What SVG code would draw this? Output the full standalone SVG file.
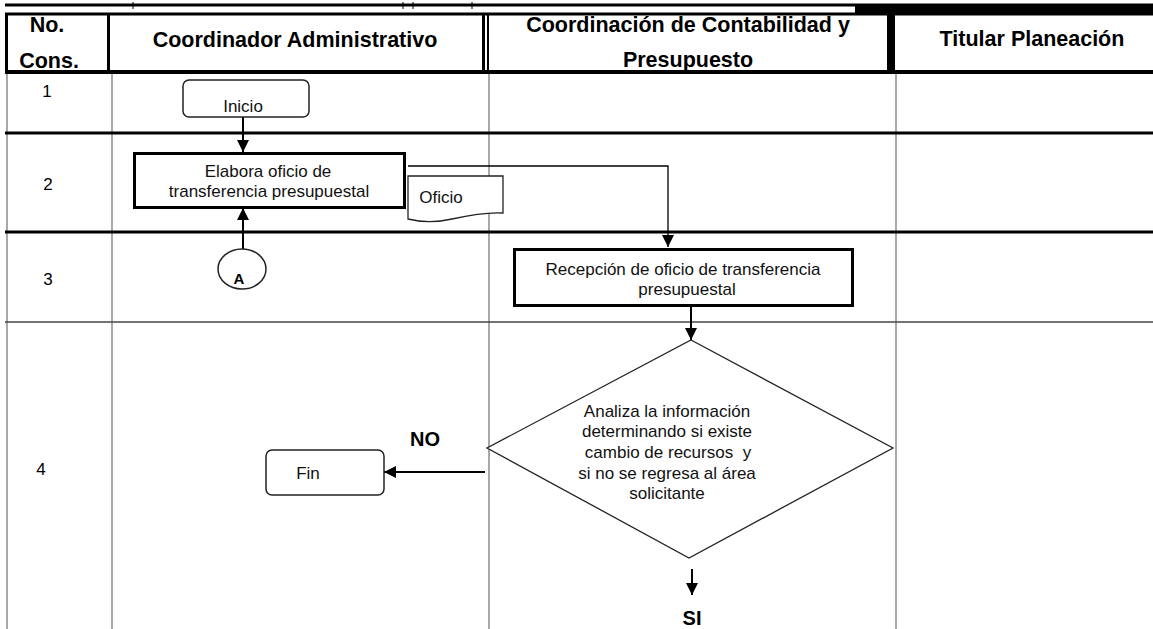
<svg xmlns="http://www.w3.org/2000/svg" width="1153" height="629" viewBox="0 0 1153 629">
<style>
.hd{font-family:"Liberation Sans",Arial,sans-serif;font-weight:bold;font-size:21.5px;text-anchor:middle;fill:#000}
.num{font-family:"Liberation Sans",Arial,sans-serif;font-size:17px;text-anchor:middle;fill:#000}
.t{font-family:"Liberation Sans",Arial,sans-serif;font-size:17px;text-anchor:middle;fill:#111}
.lbl{font-family:"Liberation Sans",Arial,sans-serif;font-weight:bold;font-size:20px;text-anchor:middle;fill:#000}
.thick{stroke:#000;stroke-width:3;fill:none}
.grid{stroke:#7a7a7a;stroke-width:1.3;fill:none}
.box{fill:#fff;stroke:#000;stroke-width:3}
.rnd{fill:#fff;stroke:#222;stroke-width:1.5}
.thin{fill:#fff;stroke:#222;stroke-width:1.3}
.con{stroke:#000;stroke-width:2;fill:none}
.con1{stroke:#000;stroke-width:1.3;fill:none}
</style>
<defs>
<marker id="ah" markerUnits="userSpaceOnUse" markerWidth="12" markerHeight="12" viewBox="0 0 12 12" refX="12" refY="6" orient="auto">
<path d="M0,0 L12,6 L0,12 z" fill="#000"/>
</marker>
</defs>
<rect width="1153" height="629" fill="#fff"/>
<g id="table">
<line class="thick" x1="5" y1="5" x2="1153" y2="5"/>
<rect x="855" y="4" width="298" height="10" fill="#000"/>
<line class="thick" x1="5" y1="14" x2="1153" y2="14"/>
<line x1="5" y1="72" x2="1153" y2="72" stroke="#000" stroke-width="4"/>
<line class="thick" x1="6.5" y1="13" x2="6.5" y2="74"/>
<line class="thick" x1="108.5" y1="13" x2="108.5" y2="74"/>
<line class="thick" x1="483.5" y1="13" x2="483.5" y2="74"/>
<line x1="488" y1="13" x2="488" y2="74" stroke="#000" stroke-width="2"/>
<line x1="891" y1="13" x2="891" y2="74" stroke="#000" stroke-width="8"/>
<g stroke="#000" stroke-width="1">
<line x1="133" y1="2" x2="133" y2="9"/>
<line x1="403" y1="2" x2="403" y2="9"/>
<line x1="413" y1="2" x2="413" y2="9"/>
<line x1="472" y1="2" x2="472" y2="9"/>
</g>
<line class="grid" x1="7" y1="74" x2="7" y2="629"/>
<line class="grid" x1="112" y1="74" x2="112" y2="629"/>
<line class="grid" x1="489" y1="74" x2="489" y2="629"/>
<line class="grid" x1="896" y1="74" x2="896" y2="629"/>
<line class="thick" x1="5" y1="133" x2="1153" y2="133"/>
<line class="thick" x1="5" y1="232" x2="1153" y2="232"/>
<line x1="5" y1="322" x2="1153" y2="322" stroke="#444" stroke-width="1.3"/>
<text class="hd" x="47" y="32">No.</text>
<text class="hd" x="49" y="68">Cons.</text>
<text class="hd" x="295" y="47">Coordinador Administrativo</text>
<text class="hd" x="688" y="32">Coordinación de Contabilidad y</text>
<text class="hd" x="688" y="67">Presupuesto</text>
<text class="hd" x="1032" y="46">Titular Planeación</text>
<text class="num" x="47" y="97">1</text>
<text class="num" x="48" y="190">2</text>
<text class="num" x="48" y="285">3</text>
<text class="num" x="41" y="475">4</text>
</g>
<g id="connectors">
<line class="con" x1="243" y1="117" x2="243" y2="152" marker-end="url(#ah)"/>
<polyline class="con1" points="408,166 668,166 668,247" marker-end="url(#ah)"/>
<line class="con" x1="243" y1="249" x2="243" y2="208" marker-end="url(#ah)"/>
<line class="con" x1="691" y1="306" x2="691" y2="340" marker-end="url(#ah)"/>
<line class="con" x1="485" y1="472" x2="384" y2="472" marker-end="url(#ah)"/>
<line class="con" x1="692" y1="569" x2="692" y2="595" marker-end="url(#ah)"/>
<text class="lbl" x="425" y="446">NO</text>
<text class="lbl" x="692" y="625">SI</text>
</g>
<g id="inicio">
<rect class="rnd" x="183" y="80" width="126" height="37" rx="6"/>
<text class="t" x="243" y="112">Inicio</text>
</g>
<g id="elabora">
<rect class="box" x="134.5" y="153.5" width="270" height="54"/>
<text class="t" x="268" y="177">Elabora oficio de</text>
<text class="t" x="269" y="197">transferencia presupuestal</text>
</g>
<g id="oficio">
<path class="thin" d="M408,176 H503 V213 C488,212 470,215 452,219 C435,223 420,222 408,219 Z"/>
<text class="t" x="441" y="203">Oficio</text>
</g>
<g id="conectorA">
<ellipse class="rnd" cx="242" cy="269" rx="24" ry="20"/>
<text x="239" y="284" font-family="Liberation Sans, Arial, sans-serif" font-weight="bold" font-size="15" text-anchor="middle">A</text>
</g>
<g id="recepcion">
<rect class="box" x="514.5" y="249.5" width="338" height="56"/>
<text class="t" x="683" y="275">Recepción de oficio de transferencia</text>
<text class="t" x="687" y="295">presupuestal</text>
</g>
<g id="analiza">
<polygon class="thin" points="691,340 893,448 689,558 487,448"/>
<text class="t" x="667" y="417">Analiza la información</text>
<text class="t" x="667" y="437">determinando si existe</text>
<text class="t" x="668" y="458" xml:space="preserve">cambio de recursos  y</text>
<text class="t" x="667" y="479">si no se regresa al área</text>
<text class="t" x="667" y="499">solicitante</text>
</g>
<g id="fin">
<rect class="rnd" x="266" y="450" width="118" height="45" rx="6"/>
<text class="t" x="308" y="479">Fin</text>
</g>
</svg>
